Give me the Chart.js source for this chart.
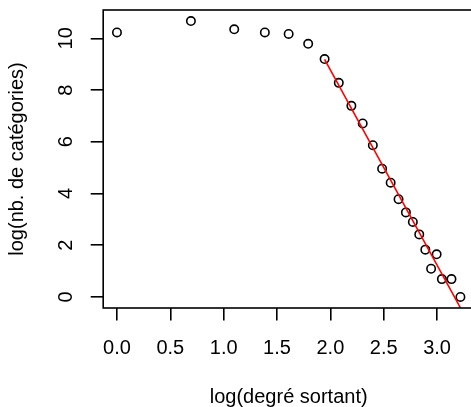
<!DOCTYPE html>
<html>
<head>
<meta charset="utf-8">
<script src="https://cdn.jsdelivr.net/npm/chart.js@4/dist/chart.umd.min.js"></script>
<style>
  html, body { margin: 0; padding: 0; background: #fff; overflow: hidden; }
  #wrap { width: 480px; height: 407px; position: relative; }
</style>
</head>
<body>
<div id="wrap"><canvas id="c"></canvas></div>
<script>
// log(degré sortant)
const degX = [0, 0.693, 1.099, 1.386, 1.609, 1.792, 1.946, 2.079, 2.197, 2.303, 2.398, 2.485, 2.565, 2.639, 2.708, 2.773, 2.833, 2.890, 2.944, 2.996, 3.045, 3.135, 3.219];
// log(nb. de catégories)
const catY = [10.23, 10.67, 10.35, 10.23, 10.17, 9.79, 9.20, 8.28, 7.39, 6.71, 5.87, 4.96, 4.42, 3.78, 3.27, 2.90, 2.42, 1.83, 1.09, 1.65, 0.69, 0.69, 0];
// fitted regression line (end points)
const fitX = [1.946, 3.219];
const fitY = [9.19, -0.42];
// axis ticks
const xTickValues = [0, 0.5, 1.0, 1.5, 2.0, 2.5, 3.0];
const yTickValues = [0, 2, 4, 6, 8, 10];
const xTitle = 'log(degré sortant)';
const yTitle = 'log(nb. de catégories)';

const FONT = '"Liberation Sans", Arial, Helvetica, sans-serif';
const TICKLEN = 12.5;

const points = degX.map((x, i) => ({ x: x, y: catY[i] }));
const fit = fitX.map((x, i) => ({ x: x, y: fitY[i] }));

const boxPlugin = {
  id: 'rbox',
  afterDraw(chart) {
    const { ctx, chartArea: a, scales } = chart;
    ctx.save();
    ctx.strokeStyle = '#000';
    ctx.lineWidth = 1.6;
    ctx.strokeRect(a.left, a.top, a.right - a.left, a.bottom - a.top);
    // rotated y tick labels (R style, las=0)
    ctx.fillStyle = '#000';
    ctx.font = '20px ' + FONT;
    ctx.textAlign = 'center';
    ctx.textBaseline = 'alphabetic';
    const bx = a.left - TICKLEN - 19;
    yTickValues.forEach(v => {
      const py = scales.y.getPixelForValue(v);
      ctx.save();
      ctx.translate(bx, py);
      ctx.rotate(-Math.PI / 2);
      ctx.fillText(String(v), 0, 0);
      ctx.restore();
    });
    ctx.restore();
  }
};

new Chart(document.getElementById('c'), {
  type: 'scatter',
  data: {
    datasets: [
      {
        type: 'scatter',
        data: points,
        pointStyle: 'circle',
        pointRadius: 4.2,
        pointHoverRadius: 4.2,
        borderColor: '#000',
        backgroundColor: 'rgba(0,0,0,0)',
        borderWidth: 1.6,
        order: 2
      },
      {
        type: 'line',
        data: fit,
        borderColor: '#ff0000',
        borderWidth: 1.6,
        pointRadius: 0,
        fill: false,
        order: 1
      }
    ]
  },
  options: {
    responsive: true,
    maintainAspectRatio: false,
    animation: false,
    events: [],
    layout: { padding: { left: 0, top: 10, right: 3.7, bottom: 0 } },
    plugins: { legend: { display: false }, tooltip: { enabled: false } },
    scales: {
      x: {
        type: 'linear',
        min: -0.129,
        max: 3.348,
        afterFit(scale) { scale.height = 99; },
        afterBuildTicks(scale) { scale.ticks = xTickValues.map(v => ({ value: v })); },
        ticks: {
          includeBounds: false,
          color: '#000',
          font: { family: FONT, size: 20 },
          padding: 16,
          maxRotation: 0,
          autoSkip: false,
          callback: v => Number(v).toFixed(1)
        },
        grid: { drawOnChartArea: false, drawTicks: true, tickLength: TICKLEN, color: '#000', lineWidth: 1.6 },
        border: { display: false },
        title: { display: true, text: xTitle, color: '#000', font: { family: FONT, size: 20, lineHeight: 1 }, padding: { top: 0, bottom: 0 } }
      },
      y: {
        type: 'linear',
        min: -0.427,
        max: 11.097,
        afterFit(scale) { scale.width = 103.2; },
        afterBuildTicks(scale) { scale.ticks = yTickValues.map(v => ({ value: v })); },
        ticks: { display: false, includeBounds: false },
        grid: { drawOnChartArea: false, drawTicks: true, tickLength: TICKLEN, color: '#000', lineWidth: 1.6 },
        border: { display: false },
        title: { display: true, text: yTitle, color: '#000', font: { family: FONT, size: 20, lineHeight: 1 }, padding: { top: 7, bottom: 0 } }
      }
    }
  },
  plugins: [boxPlugin]
});
</script>
</body>
</html>
